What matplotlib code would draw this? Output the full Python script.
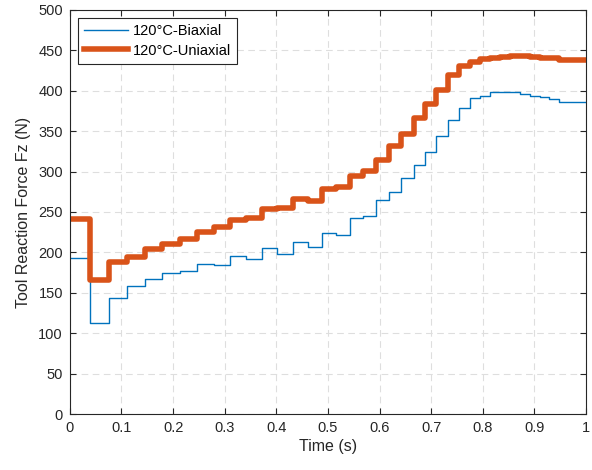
import matplotlib
matplotlib.use("Agg")
from matplotlib import pyplot as plt

# step times (s) where a new value starts, last entry is the end of the record
time_s = [0, 0.039, 0.0756, 0.11, 0.145, 0.179, 0.213, 0.247, 0.279, 0.31,
          0.342, 0.372, 0.402, 0.432, 0.461, 0.488, 0.516, 0.542, 0.568,
          0.594, 0.618, 0.642, 0.666, 0.688, 0.71, 0.732, 0.754, 0.775,
          0.795, 0.814, 0.833, 0.853, 0.872, 0.891, 0.91, 0.928, 0.947, 1.0]

# tool reaction force Fz (N)
fz_biaxial = [193, 113, 144, 158, 167, 174, 177, 186, 185, 196,
              192, 205, 198, 213, 207, 224, 222, 242, 245,
              265, 275, 292, 308, 324, 344, 364, 378, 391,
              394, 398, 399, 398, 396, 394, 392, 390, 386, 386]
fz_uniaxial = [241, 166, 188, 194, 204, 210, 217, 225, 231, 240,
               243, 254, 255, 266, 264, 278, 281, 295, 301,
               314, 332, 346, 366, 383, 401, 419, 430, 436,
               439, 441, 442, 443, 443, 442, 441, 441, 438, 438]

series_names = ["120°C-Biaxial", "120°C-Uniaxial"]

plt.rcParams['font.family'] = ['Liberation Sans', 'DejaVu Sans']

fig = plt.figure(figsize=(5.92, 4.70), dpi=100)
ax = fig.add_axes([0.118, 0.119, 0.872, 0.860])

ax.step(time_s, fz_biaxial, where="post", color="#0072BD", linewidth=1.0,
        label=series_names[0])
ax.step(time_s, fz_uniaxial, where="post", color="#D95319", linewidth=4.0,
        label=series_names[1])

ax.set_xlim(0, 1)
ax.set_ylim(0, 500)
ax.set_xticks([i / 10 for i in range(11)])
ax.set_xticklabels(["0", "0.1", "0.2", "0.3", "0.4", "0.5", "0.6", "0.7",
                    "0.8", "0.9", "1"])
ax.set_yticks(range(0, 501, 50))

# MATLAB-like look
ax.grid(True, linestyle=(0, (6, 4)), color="#dedede", linewidth=0.8)
ax.set_axisbelow(True)
ax.tick_params(direction="in", top=True, right=True, length=4,
               colors="#262626", labelsize=10.5, pad=5)
for spine in ax.spines.values():
    spine.set_color("#262626")
    spine.set_linewidth(0.8)

ax.set_xlabel("Time (s)", fontsize=11.5, color="#262626", labelpad=3)
ax.set_ylabel("Tool Reaction Force Fz (N)", fontsize=11.5, color="#262626",
              labelpad=5)

leg = ax.legend(loc="upper left", fontsize=10.5, fancybox=False,
                edgecolor="#262626", framealpha=1, handlelength=3.0,
                borderpad=0.45, labelspacing=0.35, handletextpad=0.3,
                borderaxespad=0.55)
leg.get_frame().set_linewidth(0.8)

fig.savefig("out.png", dpi=100)
